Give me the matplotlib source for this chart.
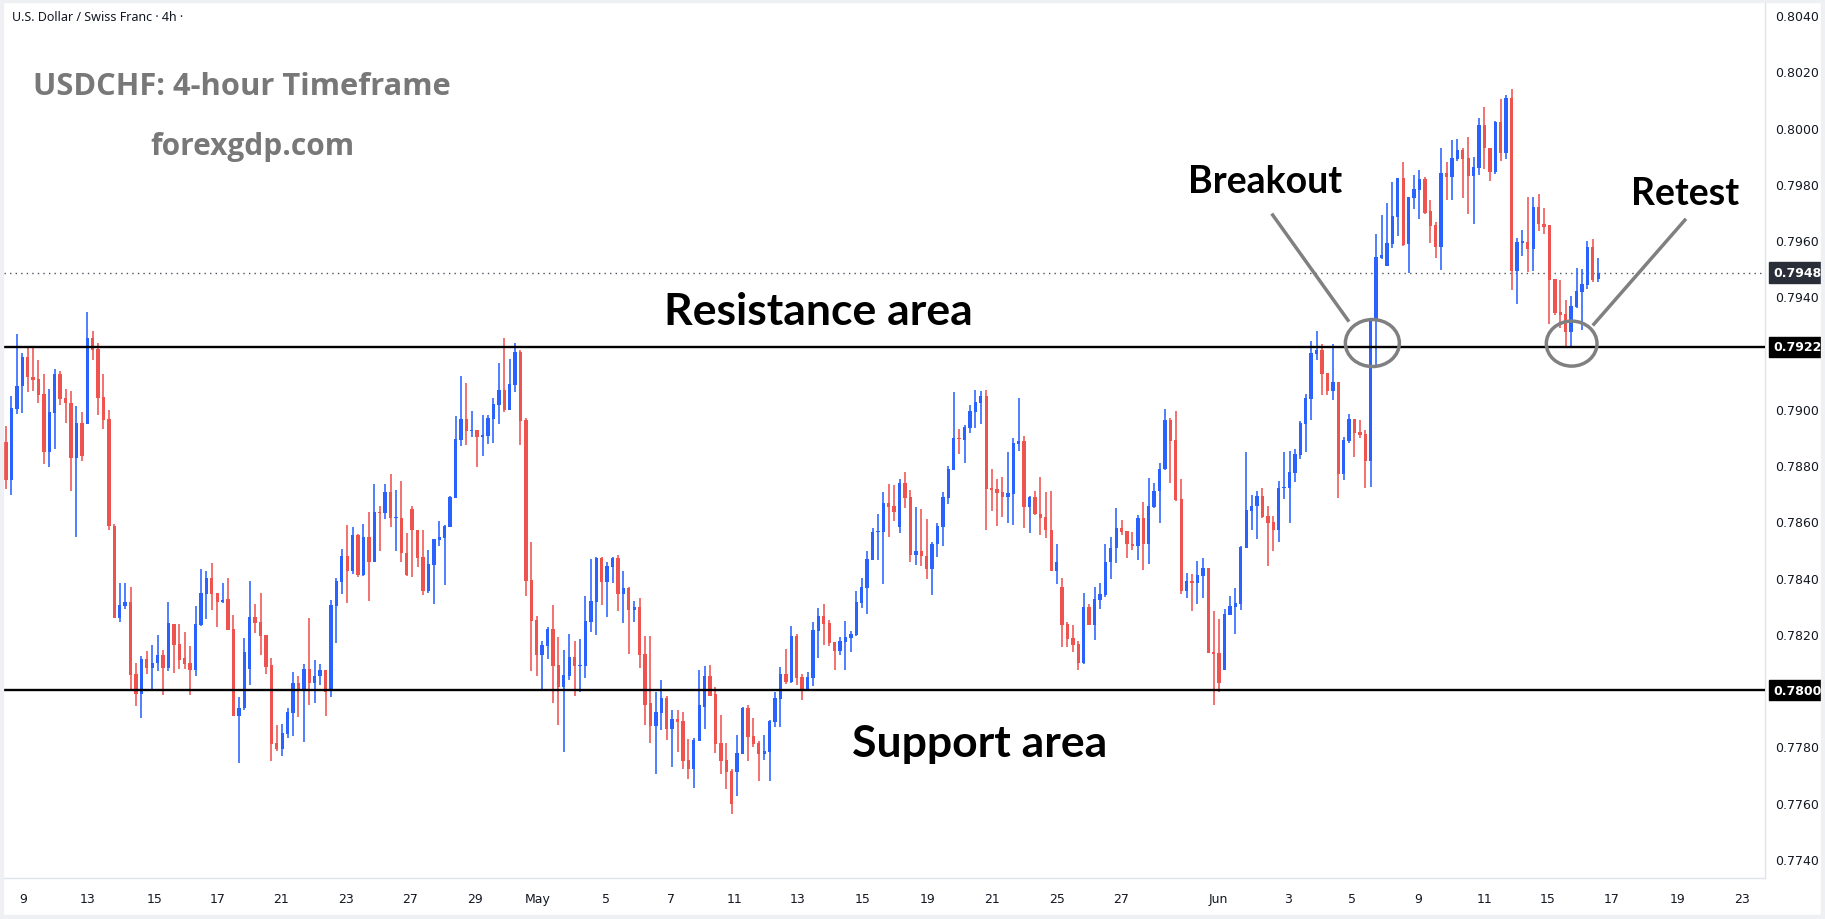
import matplotlib
matplotlib.use("Agg")
import numpy as np
import matplotlib.pyplot as plt
from matplotlib.patches import Ellipse, Rectangle
from matplotlib.transforms import blended_transform_factory

# USDCHF 4h candles
opens = [
    0.78883, 0.78746, 0.79000, 0.79082, 0.79183, 0.79115, 0.79106, 0.79052, 0.78845, 0.78984,
    0.79124, 0.79038, 0.79022, 0.78824, 0.78949, 0.78945, 0.79252, 0.79213, 0.79042, 0.78963,
    0.78582, 0.78256, 0.78300, 0.78313, 0.78056, 0.77985, 0.78110, 0.78078, 0.78095, 0.78124,
    0.78078, 0.78234, 0.78163, 0.78113, 0.78095, 0.78070, 0.78231, 0.78342, 0.78399, 0.78345,
    0.78313, 0.78324, 0.78217, 0.77910, 0.77935, 0.78074, 0.78259, 0.78242, 0.78195, 0.78088,
    0.77813, 0.77792, 0.77845, 0.77920, 0.78024, 0.78000, 0.78077, 0.78027, 0.78049, 0.78070,
    0.77997, 0.78300, 0.78386, 0.78477, 0.78425, 0.78552, 0.78410, 0.78545, 0.78457, 0.78635,
    0.78629, 0.78706, 0.78611, 0.78613, 0.78488, 0.78645, 0.78570, 0.78474, 0.78352, 0.78445,
    0.78535, 0.78542, 0.78581, 0.78684, 0.78888, 0.78963, 0.78920, 0.78924, 0.78899, 0.78902,
    0.78963, 0.79013, 0.79066, 0.78995, 0.79084, 0.79202, 0.78959, 0.78392, 0.78249, 0.78124,
    0.78156, 0.78217, 0.78088, 0.78013, 0.78049, 0.78117, 0.78085, 0.78085, 0.78242, 0.78313,
    0.78470, 0.78385, 0.78438, 0.78470, 0.78342, 0.78363, 0.78285, 0.78295, 0.78128, 0.77953,
    0.77874, 0.77920, 0.77974, 0.77863, 0.77899, 0.77892, 0.77753, 0.77721, 0.77821, 0.77942,
    0.78049, 0.77985, 0.77813, 0.77753, 0.77711, 0.77708, 0.77773, 0.77936, 0.77837, 0.77812,
    0.77773, 0.77780, 0.77887, 0.77968, 0.78057, 0.78029, 0.78193, 0.78046, 0.78000, 0.78044,
    0.78211, 0.78264, 0.78239, 0.78171, 0.78140, 0.78171, 0.78187, 0.78196, 0.78311, 0.78365,
    0.78464, 0.78562, 0.78562, 0.78664, 0.78653, 0.78580, 0.78735, 0.78685, 0.78480, 0.78496,
    0.78478, 0.78430, 0.78519, 0.78580, 0.78683, 0.78783, 0.78896, 0.78890, 0.78933, 0.78990,
    0.79022, 0.79046, 0.78719, 0.78714, 0.78703, 0.78687, 0.78697, 0.78876, 0.78885, 0.78651,
    0.78685, 0.78628, 0.78614, 0.78571, 0.78422, 0.78368, 0.78237, 0.78187, 0.78164, 0.78098,
    0.78296, 0.78230, 0.78321, 0.78339, 0.78455, 0.78505, 0.78577, 0.78567, 0.78520, 0.78511,
    0.78613, 0.78521, 0.78652, 0.78707, 0.78786, 0.78959, 0.78888, 0.78681, 0.78354, 0.78387,
    0.78382, 0.78407, 0.78435, 0.78136, 0.78131, 0.78072, 0.78268, 0.78295, 0.78307, 0.78507,
    0.78638, 0.78654, 0.78692, 0.78620, 0.78599, 0.78568, 0.78717, 0.78717, 0.78771, 0.78836,
    0.78946, 0.79036, 0.79196, 0.79210, 0.79127, 0.79064, 0.79095, 0.78768, 0.78886, 0.78963,
    0.78917, 0.78911, 0.78814, 0.79314, 0.79538, 0.79507, 0.79585, 0.79681, 0.79820, 0.79585,
    0.79750, 0.79778, 0.79816, 0.79702, 0.79652, 0.79575, 0.79838, 0.79825, 0.79889, 0.79919,
    0.79890, 0.79827, 0.79855, 0.80008, 0.79929, 0.79841, 0.80018, 0.79908, 0.80104, 0.79491,
    0.79591, 0.79594, 0.79570, 0.79719, 0.79658, 0.79652, 0.79462, 0.79344, 0.79337, 0.79274,
    0.79363, 0.79416, 0.79441, 0.79576, 0.79463,
]
highs = [
    0.78939, 0.79047, 0.79266, 0.79199, 0.79219, 0.79222, 0.79174, 0.79124, 0.79070, 0.79141,
    0.79134, 0.79070, 0.79062, 0.79009, 0.78990, 0.79345, 0.79277, 0.79233, 0.79124, 0.78995,
    0.78590, 0.78380, 0.78380, 0.78367, 0.78095, 0.78122, 0.78139, 0.78160, 0.78195, 0.78143,
    0.78313, 0.78234, 0.78234, 0.78206, 0.78156, 0.78299, 0.78431, 0.78424, 0.78452, 0.78345,
    0.78381, 0.78399, 0.78267, 0.77977, 0.78184, 0.78388, 0.78306, 0.78345, 0.78195, 0.78113,
    0.77877, 0.77881, 0.77938, 0.78063, 0.78052, 0.78092, 0.78256, 0.78106, 0.78092, 0.78070,
    0.78320, 0.78398, 0.78502, 0.78588, 0.78581, 0.78556, 0.78592, 0.78635, 0.78734, 0.78656,
    0.78734, 0.78767, 0.78713, 0.78745, 0.78560, 0.78656, 0.78570, 0.78570, 0.78500, 0.78538,
    0.78602, 0.78588, 0.78692, 0.78974, 0.79116, 0.79091, 0.78992, 0.78924, 0.78977, 0.78977,
    0.79038, 0.79163, 0.79252, 0.79177, 0.79234, 0.79209, 0.78967, 0.78527, 0.78263, 0.78174,
    0.78224, 0.78303, 0.78188, 0.78142, 0.78199, 0.78174, 0.78181, 0.78335, 0.78467, 0.78474,
    0.78474, 0.78456, 0.78474, 0.78481, 0.78424, 0.78367, 0.78317, 0.78327, 0.78192, 0.78193,
    0.77992, 0.78035, 0.77981, 0.77928, 0.77928, 0.77924, 0.77828, 0.77831, 0.78070, 0.78085,
    0.78088, 0.78010, 0.77913, 0.77813, 0.77720, 0.77839, 0.77939, 0.77946, 0.77901, 0.77819,
    0.77841, 0.77894, 0.77993, 0.78083, 0.78148, 0.78228, 0.78200, 0.78057, 0.78064, 0.78243,
    0.78293, 0.78307, 0.78250, 0.78171, 0.78189, 0.78246, 0.78211, 0.78353, 0.78400, 0.78495,
    0.78578, 0.78628, 0.78703, 0.78732, 0.78728, 0.78750, 0.78775, 0.78710, 0.78650, 0.78643,
    0.78607, 0.78528, 0.78596, 0.78703, 0.78796, 0.79060, 0.78928, 0.78942, 0.79014, 0.79067,
    0.79064, 0.79067, 0.78785, 0.78750, 0.78757, 0.78846, 0.78896, 0.79039, 0.78903, 0.78689,
    0.78707, 0.78757, 0.78703, 0.78707, 0.78518, 0.78400, 0.78243, 0.78232, 0.78175, 0.78346,
    0.78307, 0.78368, 0.78382, 0.78518, 0.78543, 0.78646, 0.78606, 0.78567, 0.78563, 0.78624,
    0.78670, 0.78756, 0.78738, 0.78809, 0.78999, 0.78967, 0.78992, 0.78752, 0.78416, 0.78412,
    0.78460, 0.78470, 0.78435, 0.78281, 0.78253, 0.78288, 0.78335, 0.78363, 0.78514, 0.78845,
    0.78695, 0.78709, 0.78720, 0.78656, 0.78620, 0.78745, 0.78845, 0.78849, 0.78859, 0.78956,
    0.79052, 0.79241, 0.79277, 0.79231, 0.79127, 0.79231, 0.79095, 0.78900, 0.78981, 0.78963,
    0.78959, 0.78925, 0.79314, 0.79621, 0.79688, 0.79731, 0.79805, 0.79820, 0.79877, 0.79752,
    0.79830, 0.79848, 0.79823, 0.79741, 0.79663, 0.79927, 0.79877, 0.79955, 0.79959, 0.79929,
    0.79965, 0.79894, 0.80033, 0.80072, 0.79929, 0.80022, 0.80101, 0.80115, 0.80136, 0.79608,
    0.79637, 0.79754, 0.79754, 0.79765, 0.79715, 0.79654, 0.79462, 0.79459, 0.79388, 0.79401,
    0.79501, 0.79497, 0.79597, 0.79604, 0.79537,
]
lows = [
    0.78715, 0.78693, 0.78981, 0.78984, 0.79059, 0.79064, 0.79020, 0.78803, 0.78792, 0.78856,
    0.79012, 0.78949, 0.78707, 0.78546, 0.78815, 0.78945, 0.79175, 0.78978, 0.78928, 0.78568,
    0.78256, 0.78241, 0.78288, 0.78005, 0.77943, 0.77900, 0.78056, 0.77997, 0.78068, 0.77982,
    0.78068, 0.78061, 0.78076, 0.78077, 0.77982, 0.78052, 0.78227, 0.78252, 0.78284, 0.78225,
    0.78309, 0.78213, 0.77910, 0.77742, 0.77931, 0.78017, 0.78202, 0.78124, 0.78056, 0.77749,
    0.77785, 0.77767, 0.77831, 0.77838, 0.77906, 0.77817, 0.77949, 0.77956, 0.78020, 0.77910,
    0.77975, 0.78168, 0.78342, 0.78311, 0.78414, 0.78404, 0.78407, 0.78318, 0.78457, 0.78493,
    0.78607, 0.78579, 0.78496, 0.78457, 0.78406, 0.78404, 0.78438, 0.78338, 0.78345, 0.78306,
    0.78513, 0.78374, 0.78581, 0.78684, 0.78867, 0.78870, 0.78899, 0.78795, 0.78831, 0.78874,
    0.78877, 0.78945, 0.78988, 0.78995, 0.79059, 0.78870, 0.78336, 0.78067, 0.78049, 0.78003,
    0.78110, 0.77953, 0.77878, 0.77781, 0.78035, 0.77978, 0.77992, 0.78042, 0.78206, 0.78195,
    0.78303, 0.78260, 0.78381, 0.78281, 0.78238, 0.78128, 0.78242, 0.78078, 0.77878, 0.77813,
    0.77703, 0.77860, 0.77824, 0.77728, 0.77781, 0.77721, 0.77685, 0.77653, 0.77821, 0.77863,
    0.77981, 0.77778, 0.77703, 0.77649, 0.77560, 0.77625, 0.77773, 0.77748, 0.77798, 0.77676,
    0.77751, 0.77676, 0.77869, 0.77869, 0.78021, 0.78025, 0.78018, 0.77964, 0.77996, 0.78014,
    0.78114, 0.78161, 0.78157, 0.78073, 0.78126, 0.78073, 0.78137, 0.78193, 0.78293, 0.78271,
    0.78464, 0.78461, 0.78378, 0.78543, 0.78600, 0.78560, 0.78647, 0.78455, 0.78446, 0.78440,
    0.78396, 0.78339, 0.78472, 0.78512, 0.78662, 0.78783, 0.78840, 0.78808, 0.78915, 0.78933,
    0.78947, 0.78569, 0.78637, 0.78583, 0.78615, 0.78594, 0.78587, 0.78851, 0.78576, 0.78558,
    0.78622, 0.78551, 0.78540, 0.78422, 0.78376, 0.78155, 0.78155, 0.78137, 0.78073, 0.78094,
    0.78230, 0.78180, 0.78287, 0.78333, 0.78394, 0.78451, 0.78550, 0.78471, 0.78500, 0.78461,
    0.78429, 0.78450, 0.78649, 0.78596, 0.78782, 0.78736, 0.78671, 0.78343, 0.78329, 0.78282,
    0.78307, 0.78329, 0.78132, 0.77949, 0.77993, 0.78072, 0.78268, 0.78199, 0.78286, 0.78507,
    0.78571, 0.78539, 0.78613, 0.78443, 0.78496, 0.78525, 0.78681, 0.78593, 0.78739, 0.78821,
    0.78846, 0.78961, 0.79175, 0.79050, 0.79050, 0.79032, 0.78683, 0.78748, 0.78878, 0.78828,
    0.78896, 0.78720, 0.78724, 0.79157, 0.79533, 0.79507, 0.79573, 0.79616, 0.79578, 0.79482,
    0.79710, 0.79675, 0.79692, 0.79589, 0.79535, 0.79493, 0.79742, 0.79742, 0.79882, 0.79751,
    0.79694, 0.79656, 0.79830, 0.79852, 0.79809, 0.79835, 0.79880, 0.79888, 0.79423, 0.79374,
    0.79545, 0.79487, 0.79491, 0.79632, 0.79620, 0.79302, 0.79334, 0.79287, 0.79220, 0.79220,
    0.79359, 0.79281, 0.79427, 0.79452, 0.79452,
]
closes = [
    0.78746, 0.79002, 0.79083, 0.79183, 0.79114, 0.79103, 0.79050, 0.78845, 0.78988, 0.79124,
    0.79036, 0.79021, 0.78824, 0.78949, 0.78832, 0.79252, 0.79210, 0.79038, 0.78961, 0.78582,
    0.78256, 0.78303, 0.78313, 0.78054, 0.77985, 0.78110, 0.78078, 0.78098, 0.78124, 0.78078,
    0.78238, 0.78159, 0.78109, 0.78092, 0.78070, 0.78234, 0.78344, 0.78399, 0.78342, 0.78313,
    0.78322, 0.78213, 0.77910, 0.77938, 0.78134, 0.78259, 0.78238, 0.78192, 0.78084, 0.77810,
    0.77792, 0.77849, 0.77924, 0.78024, 0.78000, 0.78077, 0.78027, 0.78052, 0.78070, 0.77993,
    0.78303, 0.78388, 0.78477, 0.78425, 0.78552, 0.78410, 0.78545, 0.78457, 0.78635, 0.78629,
    0.78706, 0.78611, 0.78613, 0.78486, 0.78410, 0.78568, 0.78470, 0.78352, 0.78449, 0.78538,
    0.78545, 0.78585, 0.78688, 0.78892, 0.78963, 0.78920, 0.78924, 0.78899, 0.78906, 0.78967,
    0.79017, 0.79066, 0.78995, 0.79088, 0.79202, 0.78956, 0.78388, 0.78245, 0.78124, 0.78160,
    0.78217, 0.78085, 0.78013, 0.78053, 0.78117, 0.78085, 0.78088, 0.78245, 0.78317, 0.78470,
    0.78385, 0.78442, 0.78470, 0.78342, 0.78363, 0.78285, 0.78295, 0.78124, 0.77949, 0.77874,
    0.77924, 0.77974, 0.77863, 0.77899, 0.77888, 0.77749, 0.77721, 0.77824, 0.77946, 0.78049,
    0.77981, 0.77810, 0.77749, 0.77710, 0.77595, 0.77775, 0.77936, 0.77833, 0.77808, 0.77773,
    0.77783, 0.77891, 0.77971, 0.78057, 0.78029, 0.78193, 0.78044, 0.78000, 0.78046, 0.78214,
    0.78264, 0.78237, 0.78168, 0.78140, 0.78175, 0.78189, 0.78200, 0.78314, 0.78368, 0.78468,
    0.78564, 0.78564, 0.78664, 0.78651, 0.78633, 0.78735, 0.78683, 0.78480, 0.78496, 0.78476,
    0.78430, 0.78521, 0.78582, 0.78685, 0.78785, 0.78896, 0.78894, 0.78935, 0.78992, 0.79025,
    0.79046, 0.78715, 0.78712, 0.78701, 0.78687, 0.78700, 0.78878, 0.78885, 0.78651, 0.78685,
    0.78625, 0.78612, 0.78569, 0.78422, 0.78457, 0.78233, 0.78183, 0.78162, 0.78098, 0.78296,
    0.78230, 0.78325, 0.78343, 0.78457, 0.78507, 0.78575, 0.78564, 0.78518, 0.78511, 0.78613,
    0.78521, 0.78656, 0.78709, 0.78788, 0.78959, 0.78886, 0.78675, 0.78354, 0.78387, 0.78382,
    0.78410, 0.78435, 0.78132, 0.78129, 0.78025, 0.78270, 0.78299, 0.78310, 0.78510, 0.78642,
    0.78656, 0.78692, 0.78617, 0.78596, 0.78568, 0.78717, 0.78720, 0.78774, 0.78838, 0.78949,
    0.79038, 0.79199, 0.79209, 0.79125, 0.79064, 0.79095, 0.78768, 0.78888, 0.78963, 0.78914,
    0.78907, 0.78814, 0.79314, 0.79541, 0.79548, 0.79588, 0.79684, 0.79820, 0.79582, 0.79752,
    0.79780, 0.79816, 0.79697, 0.79650, 0.79575, 0.79838, 0.79825, 0.79891, 0.79920, 0.79888,
    0.79827, 0.79858, 0.80008, 0.79927, 0.79841, 0.80018, 0.79908, 0.80104, 0.79491, 0.79594,
    0.79594, 0.79570, 0.79719, 0.79656, 0.79648, 0.79459, 0.79341, 0.79334, 0.79274, 0.79365,
    0.79419, 0.79444, 0.79576, 0.79459, 0.79484,
]

# date labels (bar index where each day label sits)
date_pos = [3.2, 15.0, 27.5, 39.1, 50.7, 62.7, 74.6, 86.6, 98.2, 110.7, 122.7, 134.5, 146.1,
            158.1, 170.2, 182.0, 194.0, 205.9, 223.9, 236.8, 248.6, 260.7, 273.0, 284.7,
            296.5, 308.6, 320.6]
date_labels = ['9', '13', '15', '17', '21', '23', '27', '29', 'May', '5', '7', '11', '13',
               '15', '19', '21', '25', '27', 'Jun', '3', '5', '9', '11', '15', '17', '19', '23']

price_ticks = [0.7740, 0.7760, 0.7780, 0.7800, 0.7820, 0.7840, 0.7860, 0.7880, 0.7900,
               0.7920, 0.7940, 0.7960, 0.7980, 0.8000, 0.8020, 0.8040]

resistance = 0.7922
support = 0.7800

W, H = 1825, 920
fig = plt.figure(figsize=(W / 100, H / 100), dpi=100)
fig.patch.set_facecolor('white')
ax = fig.add_axes([4 / W, 41 / H, 1761 / W, 875 / H])

o = np.array(opens)
hi = np.array(highs)
lo = np.array(lows)
c = np.array(closes)
x = np.arange(len(c))
cols = np.where(c >= o, '#2962FF', '#EF5350')

ax.vlines(x, lo, hi, colors=cols, lw=1.15, zorder=2)
ax.bar(x, np.maximum(np.abs(c - o), 0.00004), bottom=np.minimum(o, c), width=0.62,
       color=cols, linewidth=0, zorder=3)

# support / resistance + last price
ax.axhline(resistance, color='black', lw=1.7, zorder=4)
ax.axhline(support, color='black', lw=1.7, zorder=4)
ax.axhline(c[-1], color='#50535E', lw=1.0, ls=(0, (1, 3)), zorder=1)

ax.set_xlim(-0.37, 324.8)
ax.set_ylim(0.773324, 0.804427)

# tick labels hidden under the level tags are left blank
tags = [resistance, support]
ytl = ['' if any(abs(t - v) < 0.0005 for v in tags) else f'{t:.4f}' for t in price_ticks]
ax.yaxis.tick_right()
ax.set_yticks(price_ticks)
ax.set_yticklabels(ytl)
ax.tick_params(axis='y', length=0, pad=7, labelsize=9, labelcolor='#131722')
ax.set_xticks(date_pos)
ax.set_xticklabels(date_labels)
ax.tick_params(axis='x', length=0, pad=10, labelsize=9, labelcolor='#131722')
for s in ['top', 'left']:
    ax.spines[s].set_visible(False)
for s in ['right', 'bottom']:
    ax.spines[s].set_color('#E0E3EB')
    ax.spines[s].set_linewidth(1)

# price tags on the axis
tr = blended_transform_factory(ax.transAxes, ax.transData)
for val, fc in [(resistance, 'black'), (support, 'black'), (c[-1], '#2A2E39')]:
    ax.text(1.0045, val, f'{val:.4f}', transform=tr, ha='left', va='center', fontsize=9,
            color='white', fontweight='bold', zorder=10, clip_on=False,
            bbox=dict(boxstyle='square,pad=0.3', fc=fc, ec=fc))

# annotations
ann = dict(family='Lato', weight='bold', color='black', ha='center', va='baseline')
ax.text(150.0, 0.79302, 'Resistance area', fontsize=32, **ann)
ax.text(179.7, 0.77766, 'Support area', fontsize=32, **ann)
ax.text(232.5, 0.79770, 'Breakout', fontsize=27, **ann)
ax.text(310.1, 0.79728, 'Retest', fontsize=27, **ann)

ax.plot([233.9, 247.8], [0.79689, 0.79315], color='#808080', lw=2.5, zorder=6)
ax.plot([293.2, 310.0], [0.79301, 0.79671], color='#808080', lw=2.5, zorder=6)
ax.add_patch(Ellipse((252.3, 0.79234), 9.97, 0.00167, fill=False, ec='#808080', lw=2.5, zorder=6))
ax.add_patch(Ellipse((289.1, 0.79232), 9.36, 0.00160, fill=False, ec='#808080', lw=2.5, zorder=6))

# header texts
fig.text(12 / W, 1 - 21 / H, 'U.S. Dollar / Swiss Franc · 4h ·', fontsize=9, color='#131722',
         family='Noto Sans', ha='left', va='baseline')
fig.text(33 / W, 1 - 95 / H, 'USDCHF: 4-hour Timeframe', fontsize=22.2, family='Open Sans',
         weight='bold', color='#787878', ha='left', va='baseline')
fig.text(150 / W, 1 - 155 / H, 'forexgdp.com', fontsize=21.5, family='Open Sans',
         weight='bold', color='#787878', ha='left', va='baseline')

# outer frame
fig.patches.append(Rectangle((0, 0), 1, 1, transform=fig.transFigure, fill=False,
                             ec='#EEF0F4', lw=6))

fig.savefig('out.png', dpi=100)
